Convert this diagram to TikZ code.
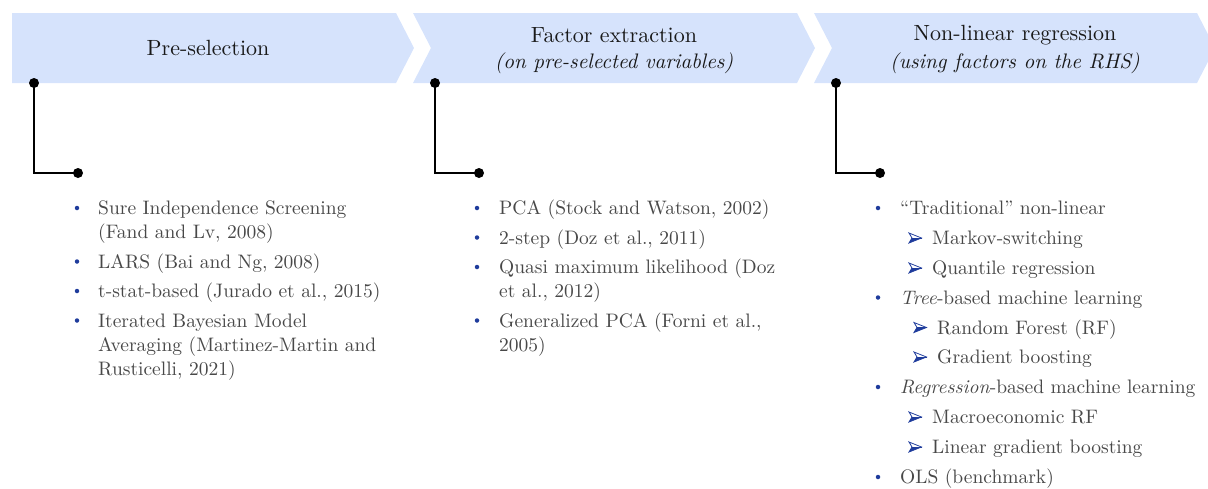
\documentclass[tikz,border=0pt]{standalone}
\usepackage{fontspec}
\setmainfont{lmroman10-regular.otf}[ItalicFont=lmroman10-italic.otf, BoldFont=lmroman10-bold.otf, Ligatures=TeX]
\definecolor{chev}{HTML}{D6E3FC}
\definecolor{tcol}{HTML}{484848}
\definecolor{bcol}{HTML}{1F3C9C}
\tikzset{
  chevron/.style={fill=chev, draw=none},
  title/.style={anchor=center, text=black!90, font=\fontsize{22}{26}\selectfont, inner sep=0},
  subtitle/.style={anchor=center, text=black!90, font=\fontsize{21}{24}\selectfont\itshape, inner sep=0},
  txt/.style={anchor=base west, inner sep=0, text=tcol, font=\fontsize{19.5}{24}\selectfont},
  dot/.style={circle, fill=black, inner sep=0, minimum size=10},
  conn/.style={line width=1.2, black},
  bul/.style={circle, fill=bcol, inner sep=0, minimum size=4.5},
  abul/.style={inner sep=0, minimum width=16, minimum height=14,
    path picture={
      \begin{scope}[shift={(path picture bounding box.center)}]
        \fill[bcol] (-6,5) -- (-3,0) -- (6.5,0) -- cycle;
        \draw[bcol, line width=0.8, line join=miter] (6.5,0) -- (-6,-5) -- (-3,0) -- (-6,5) -- cycle;
        \draw[bcol, line width=0.8] (-3,0) -- (6.5,0);
      \end{scope}
    }}
}
\begin{document}
\begin{tikzpicture}[x=1pt,y=-1pt]
\useasboundingbox (0,0) rectangle (1208,488);
% chevrons
\path[chevron] (12,13) -- (396,13) -- (414,48) -- (396,83) -- (12,83) -- cycle;
\path[chevron] (413,13) -- (797,13) -- (815,48) -- (797,83) -- (413,83) -- (431,48) -- cycle;
\path[chevron] (814,13) -- (1197,13) -- (1215,48) -- (1197,83) -- (814,83) -- (832,48) -- cycle;
% titles
\node[title] (t1) at (208,48) {Pre-selection};
\node[title] (t2) at (614,35) {Factor extraction};
\node[subtitle] (t2s) at (614,63) {(on pre-selected variables)};
\node[title] (t3) at (1015,35) {Non-linear regression};
\node[subtitle] (t3s) at (1015,63) {(using factors on the RHS)};
% connectors
\node[dot] (a1) at (34,83) {};
\node[dot] (b1) at (78,173) {};
\draw[conn] (a1.center) |- (b1.center);
\node[dot] (a2) at (435,83) {};
\node[dot] (b2) at (479,173) {};
\draw[conn] (a2.center) |- (b2.center);
\node[dot] (a3) at (836,83) {};
\node[dot] (b3) at (880,173) {};
\draw[conn] (a3.center) |- (b3.center);
% column 1
\node[bul] (p1) at (77,208) {};
\node[txt] (l11) at (98,214.5) {Sure Independence Screening};
\node[txt] (l12) at (98,238.5) {(Fand and Lv, 2008)};
\node[bul] (p2) at (77,261.5) {};
\node[txt] (l13) at (98,268) {LARS (Bai and Ng, 2008)};
\node[bul] (p3) at (77,291) {};
\node[txt] (l14) at (98,297.5) {t-stat-based (Jurado et al., 2015)};
\node[bul] (p4) at (77,320.5) {};
\node[txt] (l15) at (98,327) {Iterated Bayesian Model};
\node[txt] (l16) at (98,351) {Averaging (Martinez-Martin and};
\node[txt] (l17) at (98,375) {Rusticelli, 2021)};
% column 2
\node[bul] (q1) at (477,208) {};
\node[txt] (l21) at (499,214.5) {PCA (Stock and Watson, 2002)};
\node[bul] (q2) at (477,237.5) {};
\node[txt] (l22) at (499,244) {2-step (Doz et al., 2011)};
\node[bul] (q3) at (477,267) {};
\node[txt] (l23) at (499,273.5) {Quasi maximum likelihood (Doz};
\node[txt] (l24) at (499,297.5) {et al., 2012)};
\node[bul] (q4) at (477,320.5) {};
\node[txt] (l25) at (499,327) {Generalized PCA (Forni et al.,};
\node[txt] (l26) at (499,351) {2005)};
% column 3
\node[bul] (r1) at (878,208) {};
\node[txt] (l31) at (900,214.5) {``Traditional'' non-linear};
\node[abul] (s1) at (915,238) {};
\node[txt] (l32) at (932,244.5) {Markov-switching};
\node[abul] (s2) at (915,268) {};
\node[txt] (l33) at (932,274.5) {Quantile regression};
\node[bul] (r2) at (878,297.5) {};
\node[txt] (l34) at (900,304) {\textit{Tree}-based machine learning};
\node[abul] (s3) at (920,327.5) {};
\node[txt] (l35) at (937,334) {Random Forest (RF)};
\node[abul] (s4) at (920,357) {};
\node[txt] (l36) at (937,363.5) {Gradient boosting};
\node[bul] (r3) at (878,387) {};
\node[txt] (l37) at (900,393.5) {\textit{Regression}-based machine learning};
\node[abul] (s5) at (915,417) {};
\node[txt] (l38) at (932,423.5) {Macroeconomic RF};
\node[abul] (s6) at (915,447) {};
\node[txt] (l39) at (932,453.5) {Linear gradient boosting};
\node[bul] (r4) at (878,477) {};
\node[txt] (l40) at (900,483.5) {OLS (benchmark)};
\end{tikzpicture}
\end{document}
